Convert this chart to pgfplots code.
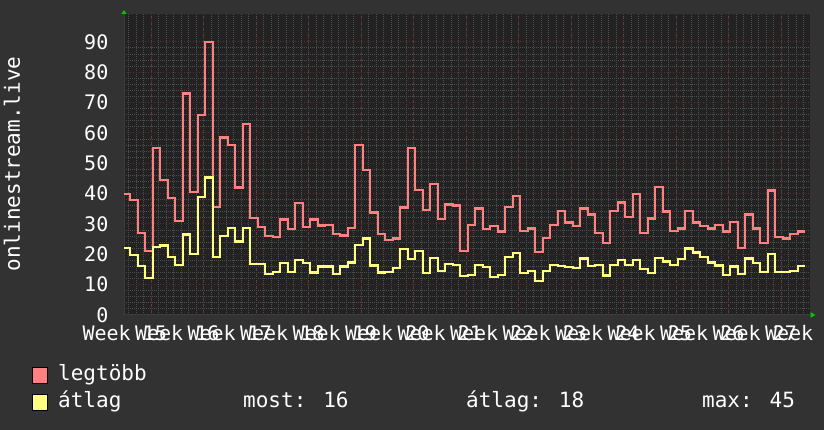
\documentclass[border=0pt]{standalone}
\usepackage{pgfplots}
\pgfplotsset{compat=1.18}
\usepackage{pgfplotstable}
\usepackage{fontspec}
\usetikzlibrary{arrows.meta}
\newfontfamily\mono{DejaVu Sans Mono}
\definecolor{backc}{RGB}{50,50,50}
\definecolor{canvasc}{RGB}{34,34,34}
\definecolor{redc}{RGB}{255,128,128}
\definecolor{yellowc}{RGB}{255,255,128}
\definecolor{minorc}{RGB}{78,78,78}
\definecolor{majorc}{RGB}{100,44,44}
\definecolor{axisc}{RGB}{60,60,60}
\definecolor{arrowc}{RGB}{0,200,0}
\definecolor{textc}{RGB}{255,255,255}

\pgfplotstableread{
d mx av
0 40 22.2
1 38 19.8
2 27 16.2
3 21 12.3
4 55 22.3
5 44.5 22.9
6 38.5 19
7 31 16.6
8 73 26.5
9 40.5 20.2
10 66 38.9
11 90 45.3
12 35.5 19.2
13 58.5 26.1
14 56 28.6
15 42 24.2
16 63 28.8
17 32 16.8
18 29 16.8
19 26 13.6
20 25.7 14.3
21 31.5 17.2
22 28.3 14.3
23 36.8 18.2
24 29 17.2
25 31.5 14
26 29.5 16
27 29.6 16
28 26.8 13.5
29 26.2 16
30 28.8 17.3
31 56 23
32 47.7 25.2
33 33.8 16.3
34 26.7 14
35 24.6 14.3
36 25.2 15.5
37 35.4 21.8
38 55 18.5
39 41.1 21.2
40 34.5 13.9
41 43.1 18.7
42 31.7 14.4
43 36.4 16.8
44 36.1 16.6
45 21.2 12.8
46 29.7 13.3
47 35.1 16.6
48 28.4 15.8
49 29.4 12.4
50 27.5 13.2
51 35.7 19.1
52 39.3 20.5
53 27.6 13.8
54 28.5 14.5
55 20.7 11.3
56 25.5 14.6
57 29.7 16.5
58 34.4 16.2
59 30.5 15.7
60 29.2 15.5
61 35.1 18.6
62 33.1 16.2
63 27 16.4
64 23.7 13
65 34.3 16.6
66 37.1 18.2
67 32.4 16.4
68 40 18.1
69 27 15.1
70 31.8 13.8
71 42.3 18.7
72 34.1 17.6
73 27.8 16.4
74 28.5 18.4
75 34.4 21.9
76 30.5 20.6
77 29.4 19
78 28.5 17.3
79 29.7 16.3
80 27.5 13.3
81 30.7 16
82 22.1 13.5
83 33.1 18.6
84 28.5 17.1
85 23.7 14.3
86 41 20.1
87 25.8 14.3
88 25.2 14.3
89 26.7 14.6
90 27.5 16.2
91 27.5 16.2
}\data

\begin{document}
\begin{tikzpicture}[x=1pt,y=1pt]
\fill[backc] (0,0) rectangle (824,430);
\begin{axis}[
  at={(124pt,115pt)}, anchor=south west,
  scale only axis, width=685.5pt, height=301pt,
  xmin=0.16, xmax=91.56, ymin=0, ymax=99.2,
  axis background/.style={fill=canvasc},
  axis x line*=bottom, axis y line*=left,
  x axis line style={draw=axisc, line width=1pt, shorten >=-6pt, -{Triangle[color=arrowc,length=5pt,width=5.5pt]}},
  y axis line style={draw=axisc, line width=1pt, shorten >=-4pt, -{Triangle[color=arrowc,length=4pt,width=5pt]}},
  xmajorgrids=false, xminorgrids=true, ymajorgrids=true, yminorgrids=true,
  xtick={0.26,7.26,...,91.3},
  xticklabels={Week 15,Week 16,Week 17,Week 18,Week 19,Week 20,Week 21,Week 22,Week 23,Week 24,Week 25,Week 26,Week 27,Week 28},
  minor xtick={0.76,1.76,...,91.5},
  extra x ticks={3.76,10.76,...,88},
  extra x tick labels={},
  extra x tick style={grid=major},
  ytick={0,10,...,90},
  minor y tick num=4,
  major tick length=0pt, minor tick length=0pt,
  major grid style={draw=majorc, line width=1pt, dash pattern=on 1pt off 2pt},
  minor grid style={draw=minorc, line width=1pt, dash pattern=on 1pt off 1pt},
  tick label style={font=\mono\fontsize{20}{24}\selectfont, text=textc, inner sep=0pt},
  /pgf/number format/assume math mode=true,
  yticklabel style={anchor=east, xshift=-15.5pt},
  xticklabel style={anchor=north, yshift=-10pt},
]
\addplot[const plot, draw=redc, line width=2.2pt] table[x=d,y=mx]{\data};
\addplot[const plot, draw=yellowc, line width=2.2pt] table[x=d,y=av]{\data};
\end{axis}
\node[rotate=90, anchor=center, inner sep=0pt, text=textc] at (12,266) {\mono\fontsize{21}{25}\selectfont onlinestream.live};
\fill[redc, draw=black, line width=0.8pt] (32,47) rectangle (47,63);
\fill[yellowc, draw=black, line width=0.8pt] (32,20) rectangle (47,36);
\begin{scope}[every node/.style={anchor=base west, inner sep=0pt, text=textc, font=\mono\fontsize{21}{25}\selectfont}]
\node at (58,49) {legtöbb};
\node at (58,22) {átlag};
\node at (243,22) {most: 16};
\node at (466,22) {átlag: 18};
\node at (702,22) {max: 45};
\end{scope}
\pgfresetboundingbox
\path[use as bounding box] (0,0) rectangle (824,430);
\end{tikzpicture}
\end{document}
